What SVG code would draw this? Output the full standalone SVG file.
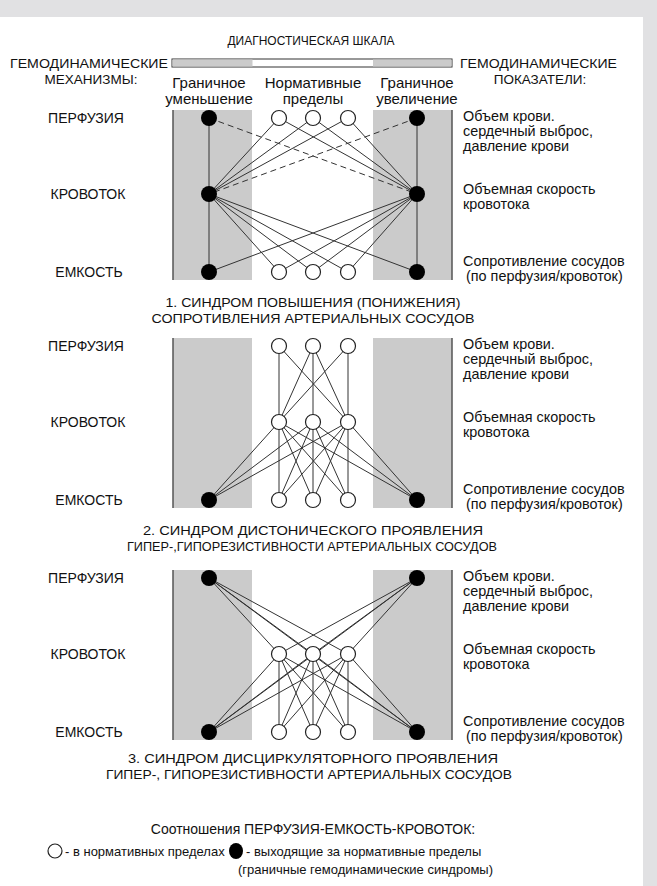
<svg xmlns="http://www.w3.org/2000/svg" width="657" height="886" viewBox="0 0 657 886">
<style>
.t{font-family:"Liberation Sans",Arial,sans-serif;fill:#111;}
.u{font-size:13.5px;}
.l{font-size:14px;}
.m{font-size:14.4px;}
.h{font-size:15px;}
.g{font-size:13px;}
.c{text-anchor:middle;}
.gray{fill:#cbcbcb;}
.edge{stroke:#333;stroke-width:1;fill:none;}
.dash{stroke-dasharray:6,4;}
.wn{fill:#fff;stroke:#222;stroke-width:1.2;}
.bn{fill:#000;}
.side{stroke:#555;stroke-width:1.5;}
</style>
<defs>
<g id="panel">
<rect x="173" y="0" width="279" height="170" fill="#fff"/>
<rect class="gray" x="173" y="0" width="79" height="170"/>
<rect class="gray" x="373" y="0" width="79" height="170"/>
<line class="side" x1="173" y1="0" x2="173" y2="170"/>
<line class="side" x1="452" y1="0" x2="452" y2="170"/>
</g>
</defs>
<rect x="0" y="0" width="657" height="886" fill="#e1e1e3"/>
<rect x="0" y="17" width="643" height="869" fill="#fff"/>

<!-- header -->
<text class="t u c" x="311" y="45" textLength="167" lengthAdjust="spacingAndGlyphs">ДИАГНОСТИЧЕСКАЯ ШКАЛА</text>
<g id="scale">
<rect x="172" y="59" width="280" height="8" fill="#fff" stroke="#333" stroke-width="1"/>
<rect class="gray" x="172.5" y="59.5" width="80" height="7"/>
<rect class="gray" x="373" y="59.5" width="78.5" height="7"/>
</g>
<text class="t u" x="10" y="68" textLength="158" lengthAdjust="spacingAndGlyphs">ГЕМОДИНАМИЧЕСКИЕ</text>
<text class="t u c" x="91" y="84">МЕХАНИЗМЫ:</text>
<text class="t u" x="460" y="68" textLength="157" lengthAdjust="spacingAndGlyphs">ГЕМОДИНАМИЧЕСКИЕ</text>
<text class="t u c" x="540" y="84">ПОКАЗАТЕЛИ:</text>
<text class="t h c" x="209" y="88">Граничное</text>
<text class="t h c" x="209" y="104">уменьшение</text>
<text class="t h c" x="313" y="88">Нормативные</text>
<text class="t h c" x="313" y="104">пределы</text>
<text class="t h c" x="417" y="88">Граничное</text>
<text class="t h c" x="417" y="104">увеличение</text>

<!-- panel backgrounds -->
<use href="#panel" y="110"/>
<use href="#panel" y="338"/>
<use href="#panel" y="570"/>

<!-- row labels -->
<g id="labels1">
<text class="t l c" x="86" y="123">ПЕРФУЗИЯ</text>
<text class="t l c" x="88" y="199">КРОВОТОК</text>
<text class="t l c" x="89" y="277">ЕМКОСТЬ</text>
<text class="t m" x="463" y="121">Объем крови.</text>
<text class="t m" x="463" y="136">сердечный выброс,</text>
<text class="t m" x="463" y="151">давление крови</text>
<text class="t m" x="463" y="194">Объемная скорость</text>
<text class="t m" x="463" y="209">кровотока</text>
<text class="t m" x="463" y="266">Сопротивление сосудов</text>
<text class="t m" x="466" y="281">(по перфузия/кровоток)</text>
</g>
<g id="labels2">
<text class="t l c" x="86" y="351">ПЕРФУЗИЯ</text>
<text class="t l c" x="88" y="427">КРОВОТОК</text>
<text class="t l c" x="89" y="505">ЕМКОСТЬ</text>
<text class="t m" x="463" y="349">Объем крови.</text>
<text class="t m" x="463" y="364">сердечный выброс,</text>
<text class="t m" x="463" y="379">давление крови</text>
<text class="t m" x="463" y="422">Объемная скорость</text>
<text class="t m" x="463" y="437">кровотока</text>
<text class="t m" x="463" y="494">Сопротивление сосудов</text>
<text class="t m" x="466" y="509">(по перфузия/кровоток)</text>
</g>
<g id="labels3">
<text class="t l c" x="86" y="583">ПЕРФУЗИЯ</text>
<text class="t l c" x="88" y="659">КРОВОТОК</text>
<text class="t l c" x="89" y="737">ЕМКОСТЬ</text>
<text class="t m" x="463" y="581">Объем крови.</text>
<text class="t m" x="463" y="596">сердечный выброс,</text>
<text class="t m" x="463" y="611">давление крови</text>
<text class="t m" x="463" y="654">Объемная скорость</text>
<text class="t m" x="463" y="669">кровотока</text>
<text class="t m" x="463" y="726">Сопротивление сосудов</text>
<text class="t m" x="466" y="741">(по перфузия/кровоток)</text>
</g>

<!-- captions -->
<text class="t u c" x="313" y="307" textLength="295" lengthAdjust="spacingAndGlyphs">1. СИНДРОМ ПОВЫШЕНИЯ (ПОНИЖЕНИЯ)</text>
<text class="t u c" x="313" y="323" textLength="323" lengthAdjust="spacingAndGlyphs">СОПРОТИВЛЕНИЯ АРТЕРИАЛЬНЫХ СОСУДОВ</text>
<text class="t u c" x="313" y="535" textLength="340" lengthAdjust="spacingAndGlyphs">2. СИНДРОМ ДИСТОНИЧЕСКОГО ПРОЯВЛЕНИЯ</text>
<text class="t u c" x="312" y="551" textLength="370" lengthAdjust="spacingAndGlyphs">ГИПЕР-,ГИПОРЕЗИСТИВНОСТИ АРТЕРИАЛЬНЫХ СОСУДОВ</text>
<text class="t u c" x="313" y="763" textLength="370" lengthAdjust="spacingAndGlyphs">3. СИНДРОМ ДИСЦИРКУЛЯТОРНОГО ПРОЯВЛЕНИЯ</text>
<text class="t u c" x="309" y="779" textLength="406" lengthAdjust="spacingAndGlyphs">ГИПЕР-, ГИПОРЕЗИСТИВНОСТИ АРТЕРИАЛЬНЫХ СОСУДОВ</text>

<!-- connectors -->
<g id="connectors" class="edge">
<!-- panel 1 -->
<line x1="209" y1="118" x2="209" y2="272"/>
<line x1="417" y1="118" x2="417" y2="272"/>
<line class="dash" x1="209" y1="118" x2="417" y2="194"/>
<line class="dash" x1="417" y1="118" x2="209" y2="194"/>
<line x1="209" y1="194" x2="279" y2="118"/>
<line x1="209" y1="194" x2="313" y2="118"/>
<line x1="209" y1="194" x2="348" y2="118"/>
<line x1="417" y1="194" x2="279" y2="118"/>
<line x1="417" y1="194" x2="313" y2="118"/>
<line x1="417" y1="194" x2="348" y2="118"/>
<line x1="209" y1="194" x2="279" y2="272"/>
<line x1="209" y1="194" x2="313" y2="272"/>
<line x1="209" y1="194" x2="348" y2="272"/>
<line x1="209" y1="194" x2="417" y2="272"/>
<line x1="417" y1="194" x2="279" y2="272"/>
<line x1="417" y1="194" x2="313" y2="272"/>
<line x1="417" y1="194" x2="348" y2="272"/>
<line x1="417" y1="194" x2="209" y2="272"/>
<!-- panel 2 -->
<line x1="279" y1="346" x2="279" y2="422"/>
<line x1="279" y1="346" x2="348" y2="422"/>
<line x1="313" y1="346" x2="279" y2="422"/>
<line x1="313" y1="346" x2="313" y2="422"/>
<line x1="313" y1="346" x2="348" y2="422"/>
<line x1="348" y1="346" x2="279" y2="422"/>
<line x1="348" y1="346" x2="348" y2="422"/>
<line x1="279" y1="422" x2="279" y2="500"/>
<line x1="279" y1="422" x2="313" y2="500"/>
<line x1="279" y1="422" x2="348" y2="500"/>
<line x1="313" y1="422" x2="279" y2="500"/>
<line x1="313" y1="422" x2="313" y2="500"/>
<line x1="313" y1="422" x2="348" y2="500"/>
<line x1="348" y1="422" x2="279" y2="500"/>
<line x1="348" y1="422" x2="313" y2="500"/>
<line x1="348" y1="422" x2="348" y2="500"/>
<line x1="209" y1="500" x2="279" y2="422"/>
<line x1="209" y1="500" x2="313" y2="422"/>
<line x1="209" y1="500" x2="348" y2="422"/>
<line x1="417" y1="500" x2="279" y2="422"/>
<line x1="417" y1="500" x2="313" y2="422"/>
<line x1="417" y1="500" x2="348" y2="422"/>
<!-- panel 3 -->
<line x1="209" y1="578" x2="279" y2="654"/>
<line x1="209" y1="578" x2="313" y2="654"/>
<line x1="209" y1="578" x2="348" y2="654"/>
<line x1="209" y1="578" x2="417" y2="732"/>
<line x1="417" y1="578" x2="279" y2="654"/>
<line x1="417" y1="578" x2="313" y2="654"/>
<line x1="417" y1="578" x2="348" y2="654"/>
<line x1="417" y1="578" x2="209" y2="732"/>
<line x1="209" y1="732" x2="279" y2="654"/>
<line x1="209" y1="732" x2="313" y2="654"/>
<line x1="209" y1="732" x2="348" y2="654"/>
<line x1="417" y1="732" x2="279" y2="654"/>
<line x1="417" y1="732" x2="313" y2="654"/>
<line x1="417" y1="732" x2="348" y2="654"/>
<line x1="279" y1="654" x2="279" y2="732"/>
<line x1="279" y1="654" x2="313" y2="732"/>
<line x1="279" y1="654" x2="348" y2="732"/>
<line x1="313" y1="654" x2="279" y2="732"/>
<line x1="313" y1="654" x2="313" y2="732"/>
<line x1="313" y1="654" x2="348" y2="732"/>
<line x1="348" y1="654" x2="279" y2="732"/>
<line x1="348" y1="654" x2="313" y2="732"/>
<line x1="348" y1="654" x2="348" y2="732"/>
</g>

<!-- nodes panel 1 -->
<g id="p1-L-perf"><circle class="bn" cx="209" cy="118" r="8"/></g>
<g id="p1-L-flow"><circle class="bn" cx="209" cy="194" r="8"/></g>
<g id="p1-L-cap"><circle class="bn" cx="209" cy="272" r="8"/></g>
<g id="p1-R-perf"><circle class="bn" cx="417" cy="118" r="8"/></g>
<g id="p1-R-flow"><circle class="bn" cx="417" cy="194" r="8"/></g>
<g id="p1-R-cap"><circle class="bn" cx="417" cy="272" r="8"/></g>
<g id="p1-N1-perf"><circle class="wn" cx="279" cy="118" r="7.5"/></g>
<g id="p1-N2-perf"><circle class="wn" cx="313" cy="118" r="7.5"/></g>
<g id="p1-N3-perf"><circle class="wn" cx="348" cy="118" r="7.5"/></g>
<g id="p1-N1-cap"><circle class="wn" cx="279" cy="272" r="7.5"/></g>
<g id="p1-N2-cap"><circle class="wn" cx="313" cy="272" r="7.5"/></g>
<g id="p1-N3-cap"><circle class="wn" cx="348" cy="272" r="7.5"/></g>
<!-- nodes panel 2 -->
<g id="p2-N1-perf"><circle class="wn" cx="279" cy="346" r="7.5"/></g>
<g id="p2-N2-perf"><circle class="wn" cx="313" cy="346" r="7.5"/></g>
<g id="p2-N3-perf"><circle class="wn" cx="348" cy="346" r="7.5"/></g>
<g id="p2-N1-flow"><circle class="wn" cx="279" cy="422" r="7.5"/></g>
<g id="p2-N2-flow"><circle class="wn" cx="313" cy="422" r="7.5"/></g>
<g id="p2-N3-flow"><circle class="wn" cx="348" cy="422" r="7.5"/></g>
<g id="p2-N1-cap"><circle class="wn" cx="279" cy="500" r="7.5"/></g>
<g id="p2-N2-cap"><circle class="wn" cx="313" cy="500" r="7.5"/></g>
<g id="p2-N3-cap"><circle class="wn" cx="348" cy="500" r="7.5"/></g>
<g id="p2-L-cap"><circle class="bn" cx="209" cy="500" r="8"/></g>
<g id="p2-R-cap"><circle class="bn" cx="417" cy="500" r="8"/></g>
<!-- nodes panel 3 -->
<g id="p3-L-perf"><circle class="bn" cx="209" cy="578" r="8"/></g>
<g id="p3-R-perf"><circle class="bn" cx="417" cy="578" r="8"/></g>
<g id="p3-L-cap"><circle class="bn" cx="209" cy="732" r="8"/></g>
<g id="p3-R-cap"><circle class="bn" cx="417" cy="732" r="8"/></g>
<g id="p3-N1-flow"><circle class="wn" cx="279" cy="654" r="7.5"/></g>
<g id="p3-N2-flow"><circle class="wn" cx="313" cy="654" r="7.5"/></g>
<g id="p3-N3-flow"><circle class="wn" cx="348" cy="654" r="7.5"/></g>
<g id="p3-N1-cap"><circle class="wn" cx="279" cy="732" r="7.5"/></g>
<g id="p3-N2-cap"><circle class="wn" cx="313" cy="732" r="7.5"/></g>
<g id="p3-N3-cap"><circle class="wn" cx="348" cy="732" r="7.5"/></g>

<!-- legend -->
<g id="legend">
<text class="t l c" x="313" y="834">Соотношения ПЕРФУЗИЯ-ЕМКОСТЬ-КРОВОТОК:</text>
<circle class="wn" cx="55" cy="851" r="7"/>
<text class="t g" x="65" y="856">- в нормативных пределах</text>
<ellipse class="bn" cx="236" cy="851" rx="7" ry="8"/>
<text class="t g" x="246" y="856">- выходящие за нормативные пределы</text>
<text class="t g" x="238" y="874">(граничные гемодинамические синдромы)</text>
</g>
</svg>
